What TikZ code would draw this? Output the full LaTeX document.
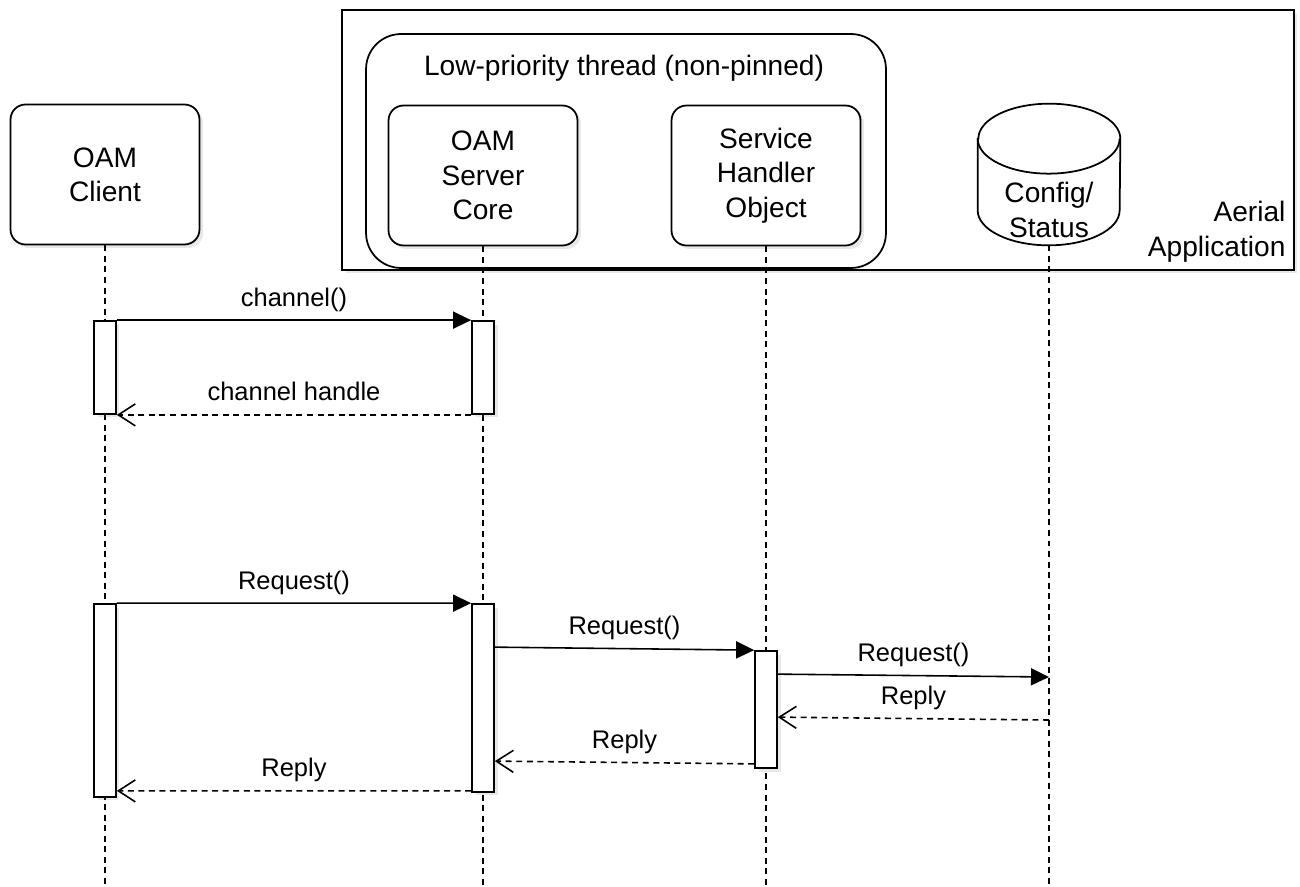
\documentclass[tikz,border=0pt]{standalone}
\usepackage{fontspec}
\setmainfont{Liberation Sans}
\usetikzlibrary{arrows.meta,shadows}

\tikzset{
  softshadow/.style={drop shadow={opacity=0.18,shadow xshift=0.07cm,shadow yshift=-0.07cm}},
  obj/.style={draw,line width=1pt,rounded corners=0.3cm,fill=white,softshadow,
    minimum width=3.78cm,minimum height=2.8cm,align=center,
    font=\fontsize{16}{19.5}\selectfont},
  bar/.style={draw,line width=1pt,fill=white,softshadow,minimum width=0.44cm,inner sep=0pt},
  lifeline/.style={line width=0.8pt,dash pattern=on 3.4pt off 2.6pt},
  call/.style={line width=0.9pt,-{Triangle[length=0.36cm,width=0.34cm]}},
  reply/.style={line width=0.9pt,dash pattern=on 3.4pt off 2.6pt,-{Straight Barb[length=0.34cm,width=0.44cm]}},
  msg/.style={fill=white,inner sep=1pt,text height=0.75em,text depth=0.2em,
    font=\fontsize{14.5}{17}\selectfont}
}

\begin{document}
\begin{tikzpicture}[x=0.02cm,y=-0.02cm]
    \useasboundingbox (0,0) rectangle (1300,886);
    \coordinate (bottom) at (0,886);

    \node[draw,line width=1pt,fill=white,softshadow,minimum width=19.04cm,minimum height=5.2cm] (aerial) at (818,140) {};
    \node[anchor=south east,align=right,inner sep=2pt,font=\fontsize{16}{19.5}\selectfont]
      at ([xshift=-0.11cm,yshift=0.1cm]aerial.south east) {Aerial\\Application};
    \node[draw,line width=1pt,rounded corners=0.7cm,minimum width=10.4cm,minimum height=4.68cm] (thread) at (626,151) {};
    \node[font=\fontsize{16}{19.5}\selectfont] at (624,68) {Low-priority thread (non-pinned)};

    \node[obj] (client) at (105,174.5) {OAM\\Client};
    \node[obj] (core) at (483,175.5) {OAM\\Server\\Core};
    \node[obj] (handler) at (766,175.5) {Service\\Handler\\Object};

    \node[minimum width=2.84cm,minimum height=2.82cm] (cfg) at (1049,174.5) {};
    \draw[line width=1pt,fill=white] ([yshift=-0.7cm]cfg.north west) -- ([yshift=0.7cm]cfg.south west)
      arc[start angle=180,end angle=360,x radius=1.42cm,y radius=0.7cm]
      -- ([yshift=-0.7cm]cfg.north east)
      arc[start angle=0,end angle=180,x radius=1.42cm,y radius=0.7cm] -- cycle;
    \draw[line width=1pt] ([yshift=-0.7cm]cfg.north west)
      arc[start angle=180,end angle=360,x radius=1.42cm,y radius=0.7cm];
    \node[align=center,font=\fontsize{16}{19.5}\selectfont] at (1049,210) {Config/\\Status};

    \foreach \n in {client,core,handler,cfg}
    {
      \draw[lifeline] (\n.south) -- (\n.south |- bottom);
    }

    \node[bar,minimum height=1.86cm] (b1) at (105,367.5) {};
    \node[bar,minimum height=1.86cm] (b2) at (483,367.5) {};
    \node[bar,minimum height=3.86cm] (b3) at (105,700.5) {};
    \node[bar,minimum height=3.76cm] (b4) at (483,698) {};
    \node[bar,minimum height=2.34cm] (b5) at (766,709.5) {};
    \coordinate (c1) at (1049,677);
    \coordinate (c2) at (1049,720);

    \draw[call] (b1.north east) -- (b2.north west) node[msg,midway,above=4.5pt] {channel()};
    \draw[reply] (b2.south west) -- (b1.south east) node[msg,midway,above=4.5pt] {channel handle};
    \draw[call] (b3.north east) -- (b4.north west) node[msg,midway,above=4.5pt] {Request()};
    \draw[call] ([yshift=-0.88cm]b4.north east) -- (b5.north west) node[msg,midway,above=4.5pt] {Request()};
    \draw[call] ([yshift=-0.48cm]b5.north east) -- (c1) node[msg,midway,above=4.5pt] {Request()};
    \draw[reply] (c2) -- ([yshift=-1.34cm]b5.north east) node[msg,midway,above=4.5pt] {Reply};
    \draw[reply] ([yshift=0.1cm]b5.south west) -- ([yshift=-3.16cm]b4.north east) node[msg,midway,above=4.5pt] {Reply};
    \draw[reply] ([yshift=0.04cm]b4.south west) -- ([yshift=0.14cm]b3.south east) node[msg,midway,above=4.5pt] {Reply};
\end{tikzpicture}
\end{document}
